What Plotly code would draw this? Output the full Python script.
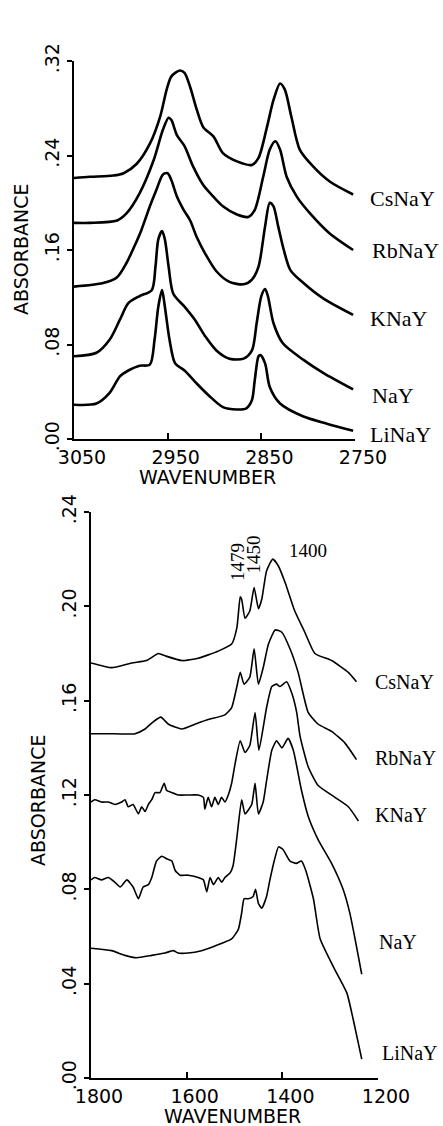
import plotly.graph_objects as go

# ---------------- top panel (C-H stretching region) ----------------
cs_wn = [3050, 3033, 3008, 2997, 2983, 2969, 2958, 2951, 2946, 2937, 2932, 2926, 2919, 2912, 2901, 2891, 2876, 2860, 2853, 2844, 2837, 2830, 2825, 2818, 2809, 2795, 2777, 2752]
cs_abs = [0.221, 0.222, 0.223, 0.225, 0.233, 0.250, 0.273, 0.296, 0.307, 0.312, 0.310, 0.298, 0.279, 0.264, 0.256, 0.242, 0.235, 0.232, 0.238, 0.264, 0.287, 0.301, 0.296, 0.273, 0.245, 0.231, 0.218, 0.207]

rb_wn = [3050, 3033, 3004, 2994, 2980, 2965, 2955, 2949, 2946, 2940, 2932, 2923, 2912, 2901, 2891, 2876, 2864, 2857, 2848, 2841, 2835, 2830, 2823, 2812, 2798, 2777, 2752]
rb_abs = [0.183, 0.183, 0.185, 0.191, 0.208, 0.236, 0.262, 0.272, 0.270, 0.257, 0.248, 0.231, 0.215, 0.205, 0.197, 0.190, 0.188, 0.194, 0.222, 0.245, 0.252, 0.245, 0.222, 0.205, 0.191, 0.174, 0.160]

k_wn = [3050, 3019, 3004, 2994, 2985, 2978, 2969, 2962, 2955, 2950, 2946, 2940, 2933, 2926, 2919, 2910, 2898, 2884, 2869, 2860, 2853, 2846, 2841, 2837, 2832, 2826, 2819, 2805, 2784, 2752]
k_abs = [0.129, 0.132, 0.137, 0.149, 0.164, 0.177, 0.197, 0.211, 0.224, 0.225, 0.219, 0.205, 0.194, 0.185, 0.171, 0.157, 0.142, 0.133, 0.131, 0.135, 0.146, 0.180, 0.200, 0.197, 0.180, 0.160, 0.143, 0.132, 0.119, 0.105]

na_wn = [3050, 3026, 3012, 3001, 2992, 2980, 2967, 2963, 2960, 2956, 2953, 2949, 2944, 2932, 2921, 2910, 2898, 2884, 2869, 2860, 2855, 2850, 2846, 2843, 2837, 2827, 2805, 2784, 2752]
na_abs = [0.070, 0.073, 0.084, 0.101, 0.115, 0.121, 0.126, 0.146, 0.169, 0.176, 0.169, 0.146, 0.123, 0.112, 0.101, 0.087, 0.075, 0.068, 0.068, 0.075, 0.098, 0.121, 0.127, 0.121, 0.098, 0.081, 0.067, 0.056, 0.042]

li_wn = [3050, 3026, 3012, 3001, 2992, 2980, 2969, 2964, 2960, 2956, 2953, 2948, 2942, 2932, 2919, 2905, 2891, 2876, 2866, 2860, 2857, 2853, 2851, 2846, 2841, 2830, 2805, 2780, 2752]
li_abs = [0.029, 0.030, 0.039, 0.053, 0.058, 0.062, 0.063, 0.084, 0.112, 0.126, 0.112, 0.084, 0.064, 0.058, 0.047, 0.036, 0.027, 0.025, 0.026, 0.033, 0.050, 0.070, 0.071, 0.064, 0.044, 0.030, 0.019, 0.013, 0.007]

# ---------------- bottom panel (1800-1200 region) ----------------
cs2_wn = [1800, 1757, 1715, 1684, 1659, 1645, 1610, 1576, 1534, 1506, 1495, 1488, 1485, 1478, 1468, 1459, 1450, 1443, 1433, 1420, 1408, 1394, 1374, 1353, 1332, 1297, 1262, 1245]
cs2_abs = [0.176, 0.174, 0.176, 0.177, 0.180, 0.179, 0.177, 0.178, 0.181, 0.184, 0.191, 0.204, 0.203, 0.195, 0.198, 0.208, 0.199, 0.203, 0.215, 0.220, 0.217, 0.210, 0.198, 0.189, 0.180, 0.177, 0.172, 0.168]

rb2_wn = [1800, 1764, 1708, 1687, 1670, 1654, 1638, 1610, 1583, 1555, 1520, 1506, 1495, 1488, 1480, 1468, 1459, 1450, 1440, 1429, 1415, 1401, 1384, 1367, 1346, 1325, 1297, 1269, 1245]
rb2_abs = [0.146, 0.146, 0.146, 0.148, 0.151, 0.153, 0.150, 0.148, 0.150, 0.152, 0.154, 0.157, 0.166, 0.172, 0.167, 0.170, 0.182, 0.167, 0.174, 0.184, 0.190, 0.189, 0.182, 0.172, 0.155, 0.150, 0.147, 0.142, 0.135]

k2_wn = [1800, 1792, 1778, 1764, 1750, 1736, 1729, 1722, 1712, 1701, 1694, 1687, 1680, 1673, 1666, 1656, 1647, 1642, 1631, 1618, 1597, 1576, 1565, 1562, 1555, 1548, 1541, 1534, 1527, 1520, 1513, 1506, 1499, 1488, 1478, 1468, 1457, 1449, 1433, 1422, 1412, 1405, 1391, 1380, 1370, 1363, 1346, 1325, 1290, 1262, 1241]
k2_abs = [0.117, 0.118, 0.117, 0.117, 0.116, 0.117, 0.118, 0.115, 0.116, 0.112, 0.115, 0.113, 0.116, 0.118, 0.121, 0.121, 0.125, 0.122, 0.121, 0.120, 0.120, 0.120, 0.119, 0.114, 0.119, 0.115, 0.119, 0.116, 0.119, 0.117, 0.120, 0.125, 0.133, 0.143, 0.138, 0.141, 0.155, 0.139, 0.157, 0.166, 0.167, 0.166, 0.168, 0.163, 0.155, 0.145, 0.132, 0.124, 0.119, 0.115, 0.109]

na2_wn = [1800, 1792, 1778, 1764, 1750, 1739, 1725, 1712, 1701, 1691, 1680, 1673, 1663, 1652, 1642, 1631, 1624, 1614, 1597, 1576, 1565, 1558, 1551, 1544, 1534, 1527, 1520, 1509, 1503, 1495, 1485, 1478, 1464, 1457, 1450, 1440, 1433, 1422, 1412, 1401, 1388, 1377, 1360, 1346, 1325, 1297, 1273, 1259, 1248, 1234]
na2_abs = [0.084, 0.085, 0.084, 0.085, 0.083, 0.081, 0.084, 0.081, 0.076, 0.081, 0.082, 0.085, 0.092, 0.094, 0.093, 0.092, 0.088, 0.086, 0.086, 0.085, 0.084, 0.079, 0.085, 0.082, 0.085, 0.083, 0.085, 0.087, 0.090, 0.102, 0.118, 0.112, 0.116, 0.125, 0.112, 0.117, 0.126, 0.139, 0.143, 0.140, 0.144, 0.139, 0.122, 0.111, 0.101, 0.091, 0.080, 0.070, 0.059, 0.044]

li2_wn = [1800, 1757, 1729, 1705, 1673, 1645, 1628, 1618, 1597, 1569, 1541, 1506, 1492, 1485, 1480, 1471, 1461, 1456, 1450, 1443, 1433, 1426, 1417, 1408, 1399, 1384, 1371, 1360, 1351, 1335, 1321, 1293, 1265, 1252, 1234]
li2_abs = [0.055, 0.054, 0.052, 0.051, 0.052, 0.053, 0.054, 0.053, 0.053, 0.054, 0.056, 0.059, 0.063, 0.070, 0.076, 0.076, 0.077, 0.080, 0.074, 0.072, 0.077, 0.084, 0.092, 0.098, 0.097, 0.092, 0.091, 0.092, 0.088, 0.076, 0.059, 0.047, 0.036, 0.025, 0.008]

sample_names = ["CsNaY", "RbNaY", "KNaY", "NaY", "LiNaY"]
top_ticks = [0.0, 0.08, 0.16, 0.24, 0.32]
top_ticktext = [".00", ".08", ".16", ".24", ".32"]
bot_ticks = [0.0, 0.04, 0.08, 0.12, 0.16, 0.20, 0.24]
bot_ticktext = [".00", ".04", ".08", ".12", ".16", ".20", ".24"]
top_xticks = [3050, 2950, 2850, 2750]
bot_xticks = [1800, 1600, 1400, 1200]
top_peaks = [(2940, "2940"), (2830, "2829")]
bot_peaks = [(1494, "1479"), (1461, "1450")]

W, H = 443, 1126
fig = go.Figure()

top_series = [(cs_wn, cs_abs), (rb_wn, rb_abs), (k_wn, k_abs), (na_wn, na_abs), (li_wn, li_abs)]
bot_series = [(cs2_wn, cs2_abs), (rb2_wn, rb2_abs), (k2_wn, k2_abs), (na2_wn, na2_abs), (li2_wn, li2_abs)]

for name, (xs, ys) in zip(sample_names, top_series):
    fig.add_trace(go.Scatter(x=xs, y=ys, mode="lines", name=name, xaxis="x", yaxis="y",
                             line=dict(color="black", width=2.6, shape="spline", smoothing=0.8),
                             showlegend=False, hoverinfo="skip"))
for name, (xs, ys) in zip(sample_names, bot_series):
    fig.add_trace(go.Scatter(x=xs, y=ys, mode="lines", name=name, xaxis="x2", yaxis="y2",
                             line=dict(color="black", width=1.6, shape="spline", smoothing=0.5),
                             showlegend=False, hoverinfo="skip"))

axfont = dict(family="DejaVu Sans", size=19, color="black")
common_x = dict(showline=True, linewidth=2, linecolor="black", ticks="inside", ticklen=6,
                tickwidth=1.5, tickcolor="black", showgrid=False, zeroline=False,
                tickfont=axfont, ticklabelshift=-8, automargin=False)
common_y = dict(showline=True, linewidth=2, linecolor="black", ticks="outside", ticklen=5,
                tickwidth=1.5, tickcolor="black", showgrid=False, zeroline=False,
                tickfont=axfont, tickangle=-90, automargin=False)

fig.update_layout(
    template="none",
    width=W, height=H, autosize=False,
    margin=dict(l=0, r=0, t=0, b=0, pad=0),
    paper_bgcolor="white", plot_bgcolor="white",
    xaxis=dict(domain=[74 / W, 355 / W], range=[3050, 2750], anchor="y",
               tickvals=top_xticks, ticktext=[str(v) for v in top_xticks], **common_x),
    yaxis=dict(domain=[1 - 439 / H, 1 - 61 / H], range=[0, 0.32], anchor="x",
               tickvals=top_ticks, ticktext=top_ticktext, **common_y),
    xaxis2=dict(domain=[91 / W, 378 / W], range=[1800, 1200], anchor="y2",
                tickvals=bot_xticks, ticktext=[str(v) for v in bot_xticks], **common_x),
    yaxis2=dict(domain=[1 - 1078 / H, 1 - 512 / H], range=[0, 0.24], anchor="x2",
                tickvals=bot_ticks, ticktext=bot_ticktext, **common_y),
)

ann = []
titlefont = dict(family="DejaVu Sans", size=19, color="black")
ann.append(dict(text="ABSORBANCE", xref="paper", yref="paper", x=21 / W, y=1 - 250 / H,
                textangle=-90, showarrow=False, font=titlefont, xanchor="center", yanchor="middle"))
ann.append(dict(text="WAVENUMBER", xref="paper", yref="paper", x=207 / W, y=1 - 477 / H,
                showarrow=False, font=titlefont, xanchor="center", yanchor="middle"))
ann.append(dict(text="ABSORBANCE", xref="paper", yref="paper", x=38 / W, y=1 - 801 / H,
                textangle=-90, showarrow=False, font=titlefont, xanchor="center", yanchor="middle"))
ann.append(dict(text="WAVENUMBER", xref="paper", yref="paper", x=232 / W, y=1 - 1116 / H,
                showarrow=False, font=titlefont, xanchor="center", yanchor="middle"))

serif = "Liberation Serif"
top_label_y = [198, 251, 318, 395, 434]
top_label_x = [368, 370, 368, 370, 368]
for name, lx, ly in zip(sample_names, top_label_x, top_label_y):
    ann.append(dict(text=name, xref="paper", yref="paper", x=lx / W, y=1 - ly / H,
                    showarrow=False, xanchor="left", yanchor="middle",
                    font=dict(family=serif, size=22, color="black")))
bot_label_y = [682, 758, 815, 942, 1053]
bot_label_x = [373, 373, 373, 377, 380]
for name, lx, ly in zip(sample_names, bot_label_x, bot_label_y):
    ann.append(dict(text=name, xref="paper", yref="paper", x=lx / W, y=1 - ly / H,
                    showarrow=False, xanchor="left", yanchor="middle",
                    font=dict(family=serif, size=20, color="black")))

for (px, txt), yv in zip(top_peaks, [0.346, 0.332]):
    ann.append(dict(text=txt, xref="x", yref="y", x=px, y=yv, textangle=-90, showarrow=False,
                    xanchor="center", yanchor="middle", font=dict(family=serif, size=17, color="black")))
for (px, txt), yv in zip(bot_peaks, [0.219, 0.222]):
    ann.append(dict(text=txt, xref="x2", yref="y2", x=px, y=yv, textangle=-90, showarrow=False,
                    xanchor="center", yanchor="middle", font=dict(family=serif, size=19, color="black")))
ann.append(dict(text="1400", xref="x2", yref="y2", x=1347, y=0.2235, showarrow=False,
                xanchor="center", yanchor="middle", font=dict(family=serif, size=19, color="black")))

fig.update_layout(annotations=ann)
fig.write_html("out.html")
